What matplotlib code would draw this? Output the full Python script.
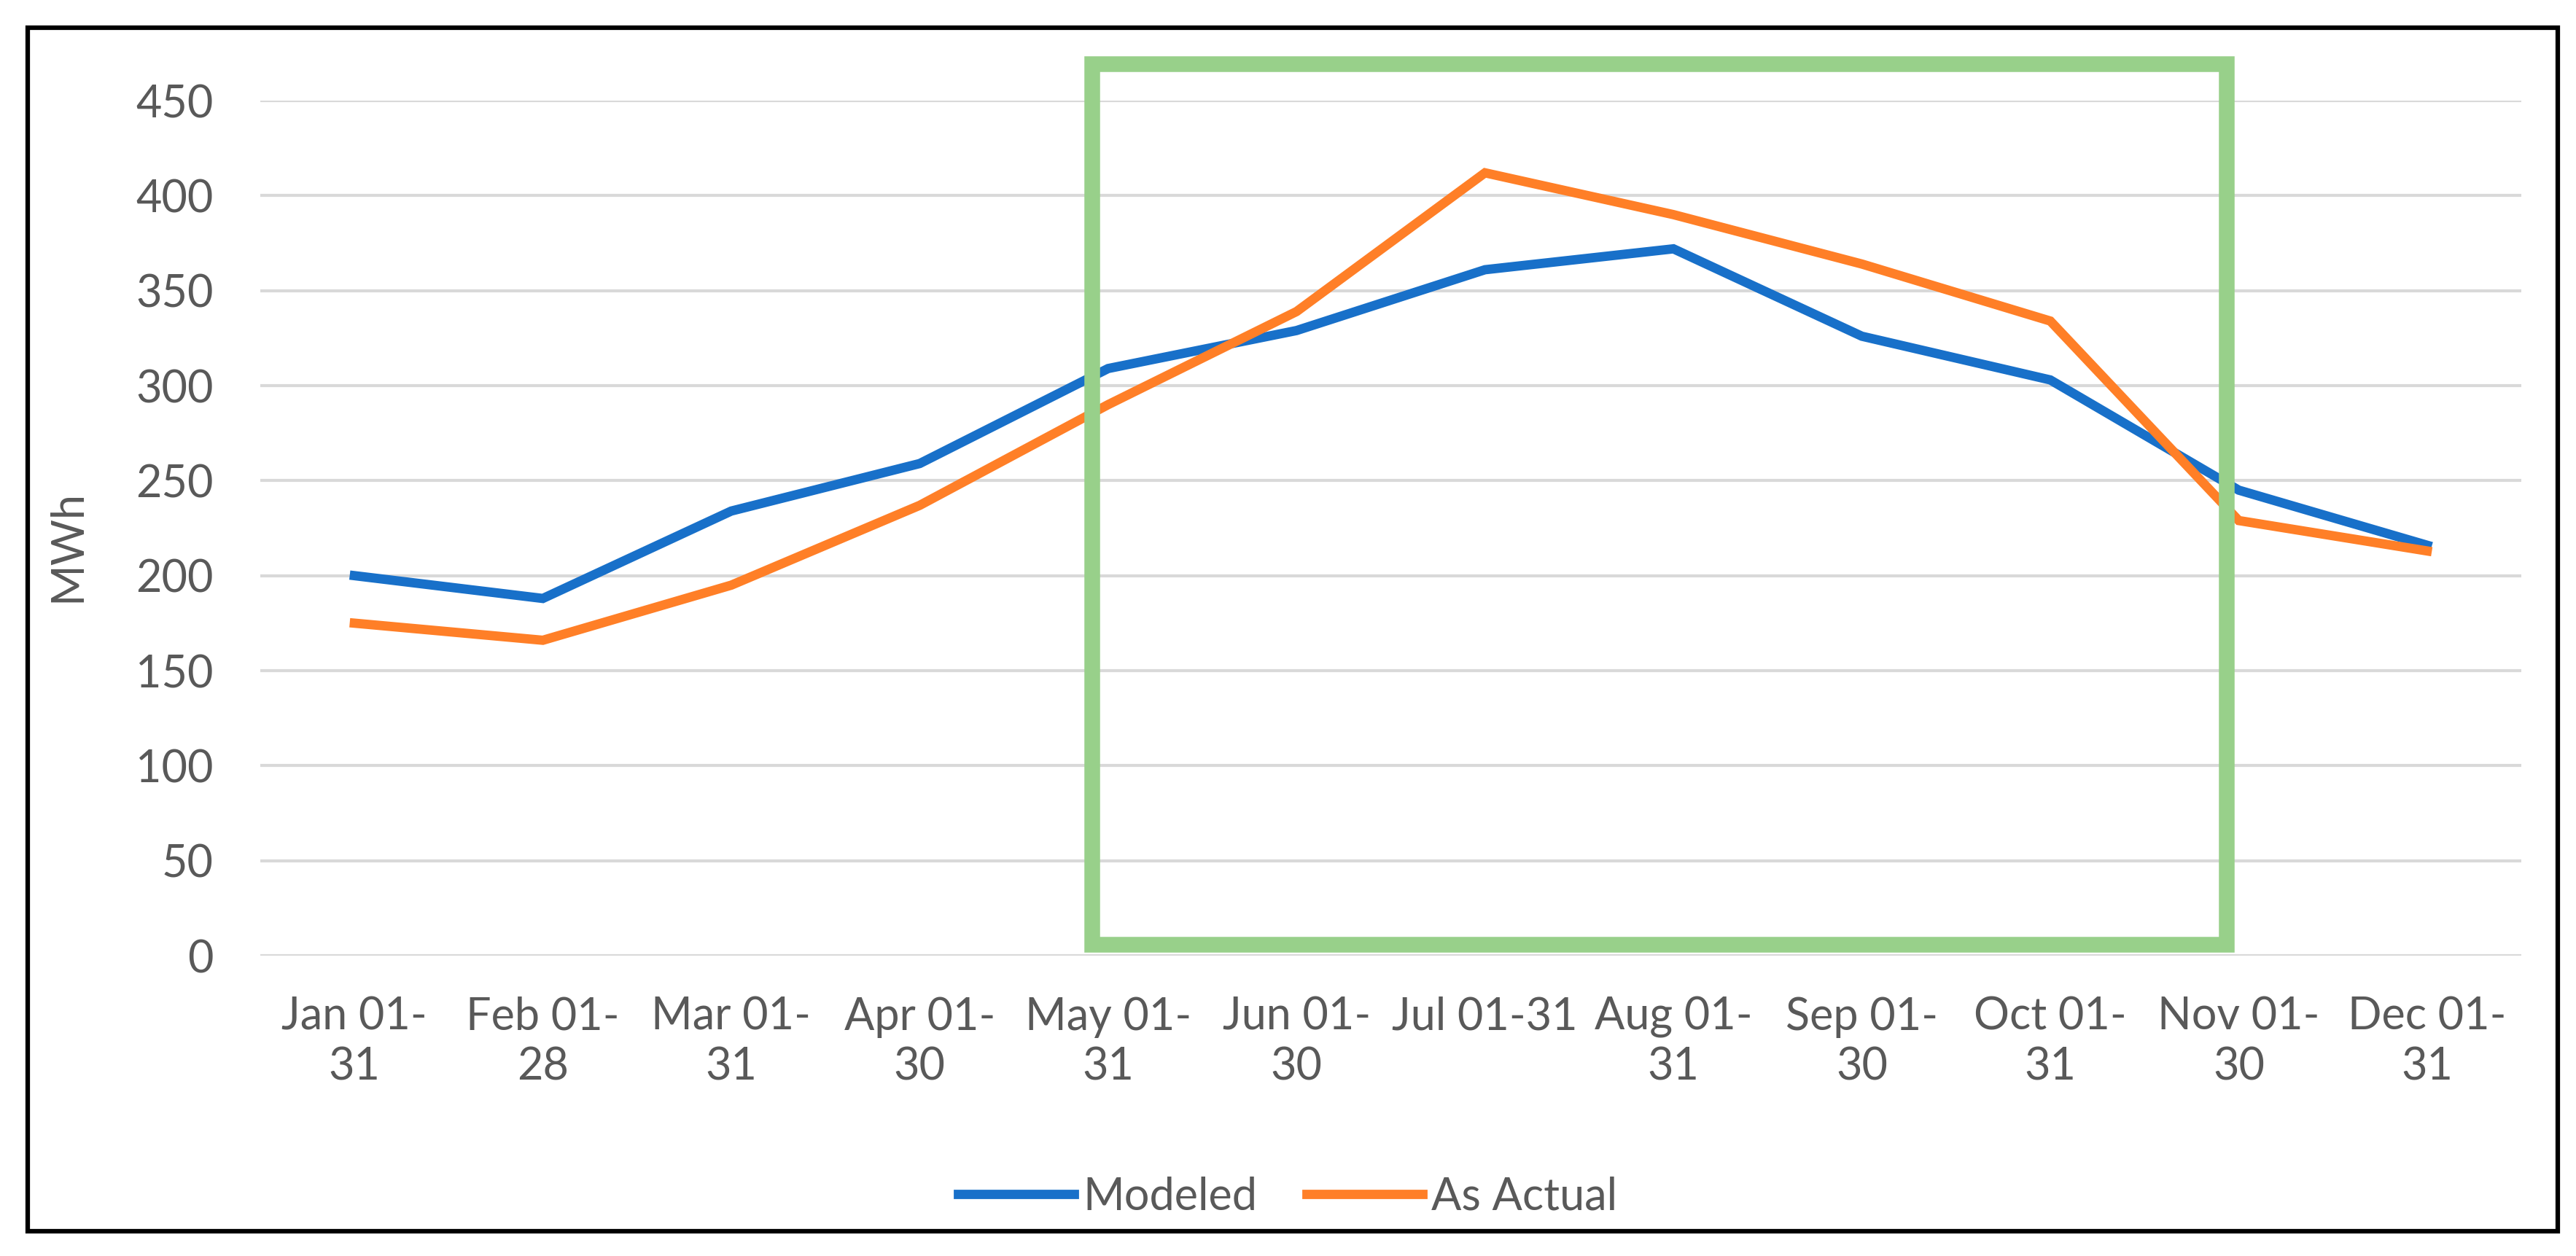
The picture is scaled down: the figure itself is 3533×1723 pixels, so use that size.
import matplotlib
matplotlib.use("Agg")
import matplotlib.pyplot as plt
from matplotlib.patches import Rectangle

categories = ["Jan 01-\n31", "Feb 01-\n28", "Mar 01-\n31", "Apr 01-\n30", "May 01-\n31",
              "Jun 01-\n30", "Jul 01-31", "Aug 01-\n31", "Sep 01-\n30", "Oct 01-\n31",
              "Nov 01-\n30", "Dec 01-\n31"]
modeled = [200, 188, 234, 259, 309, 329, 361, 372, 326, 303, 245, 216]
as_actual = [175, 166, 195, 237, 290, 339, 412, 390, 364, 334, 229, 213]
y_ticks = [0, 50, 100, 150, 200, 250, 300, 350, 400, 450]

plt.rcParams['font.family'] = ['Lato', 'DejaVu Sans']
TXT = '#595959'
FS = 44

fig = plt.figure(figsize=(35.33, 17.23), dpi=100)
ax = fig.add_axes([0.1010, 0.2391, 0.8778, 0.6808])

x = list(range(len(categories)))
ax.plot(x, modeled, color='#1870C9', lw=9.2, label='Modeled', solid_joinstyle='miter', zorder=3)
ax.plot(x, as_actual, color='#FF7F27', lw=9.2, label='As Actual', solid_joinstyle='miter', zorder=3)

ax.set_xlim(-0.5, len(categories) - 0.5)
ax.set_ylim(0, 450)
ax.set_yticks(y_ticks)
ax.set_xticks(x)
ax.set_xticklabels(categories, linespacing=1.25)
ax.tick_params(axis='both', length=0, labelsize=FS, labelcolor=TXT)
ax.tick_params(axis='y', pad=46)
ax.tick_params(axis='x', pad=40)
ax.grid(axis='y', color='#D9D9D9', lw=3)
ax.set_axisbelow(True)
for s in ax.spines.values():
    s.set_visible(False)

ax.set_ylabel('MWh', fontsize=FS, color=TXT)
ax.yaxis.set_label_coords(-0.0758, 0.479)

# highlight box (May–Oct)
rect = Rectangle((3.914, 5.75), 9.937 - 3.914, 469.2 - 5.75, fill=False,
                 edgecolor='#98D08A', lw=15.5, clip_on=False, zorder=4, joinstyle='miter')
ax.add_patch(rect)

leg = fig.legend(loc='center', bbox_to_anchor=(0.4999, 0.047), ncol=2, frameon=False,
                 fontsize=FS, handlelength=2.6, handletextpad=0.2, columnspacing=1.1)
for t in leg.get_texts():
    t.set_color(TXT)

# outer frame
fig.patches.append(Rectangle((38 / 3533, 1 - 1689 / 1723), (3508 - 38) / 3533, (1689 - 38) / 1723,
                             transform=fig.transFigure, fill=False, edgecolor='black', lw=4.5,
                             joinstyle='miter'))

fig.savefig('out.png', dpi=100)
